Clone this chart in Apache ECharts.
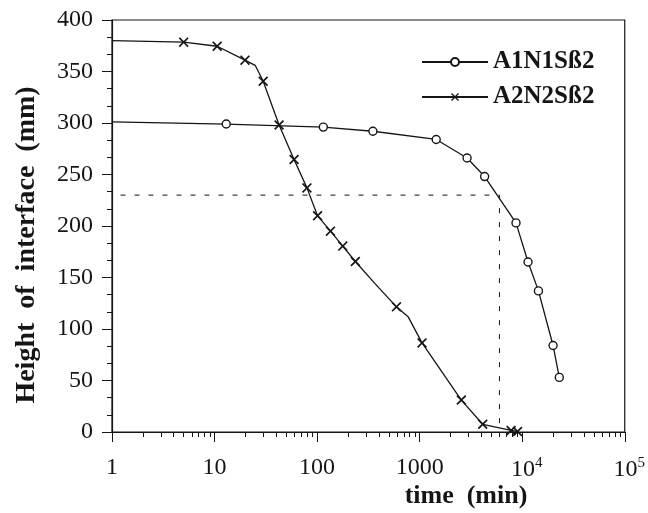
<!DOCTYPE html>
<html>
<head>
<meta charset="utf-8">
<script src="https://cdn.jsdelivr.net/npm/echarts@6/dist/echarts.min.js"></script>
<style>
  html, body { margin: 0; padding: 0; background: #fff; }
  #chart { width: 648px; height: 513px; }
</style>
</head>
<body>
<div id="chart"></div>
<script>
// ---------- data ----------
const seriesNames = ['A1N1Sß2', 'A2N2Sß2'];

// A1N1Sß2 : measured points (circles)
const a1Time   = [13, 115, 350, 1450, 2900, 4300, 8700, 11400, 14400, 20000, 23000];
const a1Height = [299, 296, 292, 284, 266, 248, 203, 165, 137, 84, 53];
// line vertices without a marker
const a1BendTime   = [1];
const a1BendHeight = [301];

// A2N2Sß2 : measured points (crosses)
const a2Time   = [5, 10.6, 19.8, 29.8, 42.6, 59.6, 79.6, 101, 135, 178, 236, 594, 1055, 2550, 4120, 7800, 9000];
const a2Height = [378.5, 374.5, 361, 340.5, 298, 264.5, 237, 210, 195, 180.5, 165.5, 121.5, 86.5, 31, 7.5, 1.5, 0.5];
// line vertices without a marker
const a2BendTime   = [1, 24.9, 367, 771];
const a2BendHeight = [380, 356, 144, 112];

// dashed guide lines
const guideTime   = [1.21, 6000, 6000];
const guideHeight = [230, 230, 0];

// axis ticks / labels
const xTickLabels = ['1', '10', '100', '1000', '10^4', '10^5'];
const yMin = 0, yMax = 400, yStep = 50;
const xMin = 1, xMax = 100000;

// ---------- helpers ----------
function buildLine(mt, mh, bt, bh) {
  const pts = [];
  mt.forEach((t, i) => pts.push({ value: [t, mh[i]], marked: true }));
  bt.forEach((t, i) => pts.push({ value: [t, bh[i]], marked: false }));
  pts.sort((a, b) => a.value[0] - b.value[0]);
  return pts.map(p => p.marked ? { value: p.value } : { value: p.value, symbol: 'none' });
}

// minor ticks 2..9 in every decade, placed on a linear helper axis of exponents
const minorTickExp = [];
for (let d = xMin; d < xMax; d *= 10) {
  for (let m = 2; m <= 9; m++) minorTickExp.push(Math.log10(d * m));
}

const INK = '#151515';
const crossPath = 'path://M0,1.2 L1.2,0 L5,3.8 L8.8,0 L10,1.2 L6.2,5 L10,8.8 L8.8,10 L5,6.2 L1.2,10 L0,8.8 L3.8,5 Z';
const serif = '"Liberation Serif", "Times New Roman", serif';

const chart = echarts.init(document.getElementById('chart'), null, { renderer: 'canvas' });

chart.setOption({
  animation: false,
  backgroundColor: '#ffffff',
  grid: {
    left: 112, right: 20, top: 20, bottom: 81,
    show: true, borderColor: INK, borderWidth: 1.2, backgroundColor: 'transparent'
  },
  legend: {
    data: seriesNames,
    orient: 'vertical',
    left: 416, top: 42,
    itemWidth: 66, itemHeight: 10, itemGap: 5,
    textStyle: { fontFamily: serif, fontWeight: 'bold', fontSize: 25, color: INK, lineHeight: 30 }
  },
  xAxis: [{
    type: 'log', logBase: 10, min: xMin, max: xMax,
    axisLine: { show: true, lineStyle: { color: INK, width: 1.2 } },
    axisTick: { show: true, inside: false, length: 10, lineStyle: { color: INK, width: 1 } },
    splitLine: { show: false },
    axisLabel: {
      margin: 24, color: INK, fontFamily: serif, fontSize: 24,
      formatter: function (v) {
        const e = Math.round(Math.log10(v));
        const lab = xTickLabels[e];
        if (lab.indexOf('^') >= 0) {
          const parts = lab.split('^');
          return '{b|' + parts[0] + '}{s|' + parts[1] + '}';
        }
        return lab;
      },
      rich: {
        b: { fontFamily: serif, fontSize: 24, color: INK, padding: [0, 0, 0, 9] },
        s: { fontFamily: serif, fontSize: 15, color: INK, padding: [0, 0, 12, 0] }
      }
    }
  }, {
    type: 'value', min: Math.log10(xMin), max: Math.log10(xMax), position: 'bottom',
    axisLine: { show: false },
    axisLabel: { show: false },
    splitLine: { show: false },
    axisTick: { show: true, inside: false, length: 5, customValues: minorTickExp, lineStyle: { color: INK, width: 1 } }
  }],
  yAxis: {
    type: 'value', min: yMin, max: yMax, interval: yStep,
    axisLine: { show: true, lineStyle: { color: INK, width: 1.2 } },
    axisTick: { show: true, inside: false, length: 10, lineStyle: { color: INK, width: 1 } },
    minorTick: { show: true, splitNumber: 3, length: 5, lineStyle: { color: INK, width: 1 } },
    splitLine: { show: false },
    minorSplitLine: { show: false },
    axisLabel: { margin: 19, color: INK, fontFamily: serif, fontSize: 24 }
  },
  graphic: [{
    type: 'text', x: 27, y: 245, rotation: Math.PI / 2,
    style: {
      text: 'Height  of  interface  (mm)', fill: INK,
      font: 'bold 28px "Liberation Serif"',
      textAlign: 'center', textVerticalAlign: 'middle', align: 'center', verticalAlign: 'middle'
    }
  }, {
    type: 'text', x: 466, y: 496,
    style: {
      text: 'time  (min)', fill: INK,
      font: 'bold 26px "Liberation Serif"',
      textAlign: 'center', textVerticalAlign: 'middle', align: 'center', verticalAlign: 'middle'
    }
  }],
  series: [{
    name: seriesNames[0], type: 'line',
    data: buildLine(a1Time, a1Height, a1BendTime, a1BendHeight),
    symbol: 'circle', symbolSize: 8, showSymbol: true,
    lineStyle: { color: INK, width: 1.3 },
    itemStyle: { color: '#ffffff', borderColor: INK, borderWidth: 1.4 },
    z: 3
  }, {
    name: seriesNames[1], type: 'line',
    data: buildLine(a2Time, a2Height, a2BendTime, a2BendHeight),
    symbol: crossPath, symbolSize: 10, showSymbol: true,
    lineStyle: { color: INK, width: 1.3 },
    itemStyle: { color: INK, borderWidth: 0 },
    z: 3
  }, {
    name: 'guide', type: 'line',
    data: guideTime.map((t, i) => [t, guideHeight[i]]),
    symbol: 'none',
    lineStyle: { color: INK, width: 1, type: [5, 9] },
    z: 2
  }]
});
</script>
</body>
</html>
